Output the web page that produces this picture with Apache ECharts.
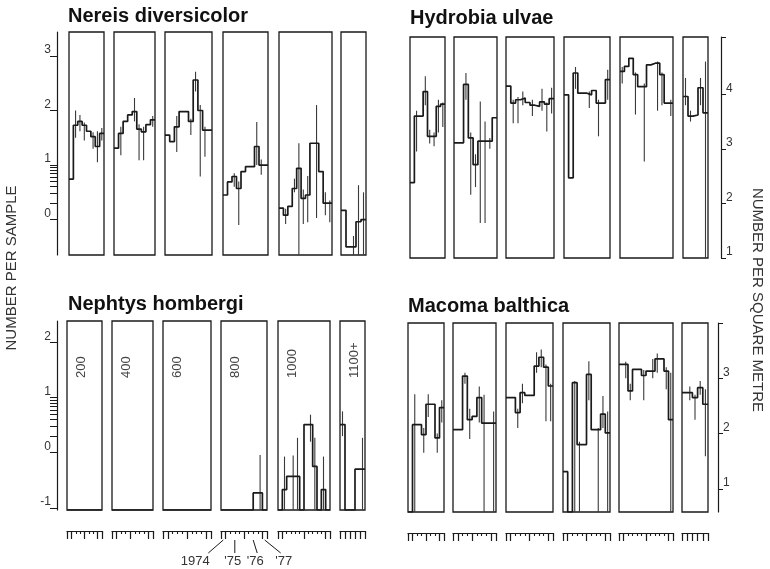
<!DOCTYPE html>
<html>
<head>
<meta charset="utf-8">
<script src="https://cdn.jsdelivr.net/npm/echarts@6/dist/echarts.min.js"></script>
<style>
  html, body { margin: 0; padding: 0; background: #fff; }
  #chart { width: 770px; height: 569px; }
</style>
</head>
<body>
<div id="chart"></div>
<script>
// ---- data ----------------------------------------------------------------
const species = ['Nereis diversicolor', 'Hydrobia ulvae', 'Nephtys hombergi', 'Macoma balthica'];
const bandLabels = ['200', '400', '600', '800', '1000', '1100+'];
const samplesPerBand = [8, 9, 10, 10, 12, 5];

// long ticks on the sampling-date combs (sample-boundary index)
const yearMarks = [[0, 1, 4, 7, 8], [0, 1, 4, 8, 9], [0, 1, 5, 9, 10], [0, 1, 5, 9, 10], [0, 1, 6, 11, 12], [0, 1, 2, 3, 4, 5]];
const yearLabels = ['1974', "'75", "'76", "'77"];
const yearLabelAt = [0.5, 3, 7, 9.5];

// axis tick labels
const nereisTicks = [0, 1, 2, 3];
const hydrobiaTicks = [1, 2, 3, 4];
const nephtysTicks = [-1, 0, 1, 2];
const macomaTicks = [1, 2, 3];
const logMinor = [2, 3, 4, 5, 6, 7, 8, 9];

const nereisRange = [-0.65, 3.44];
const hydrobiaRange = [1.0, 5.05];
const nephtysRange = [-1.04, 2.39];
const macomaRange = [0.58, 4.0];

// mean per sample (log10 number per sample on the left, log10 per m2 on the right);
// null = none found
const nereisMean = [
  [0.74, 1.73, 1.80, 1.73, 1.62, 1.52, 1.34, 1.58],
  [1.31, 1.58, 1.80, 1.92, 1.98, 1.66, 1.61, 1.74, 1.83],
  [1.55, 1.43, 1.70, 1.98, 1.98, 1.80, 2.56, 2.00, 1.64, 1.64],
  [0.45, 0.69, 0.79, 0.57, 0.88, 0.97, 0.97, 1.34, 1.00, 1.00],
  [0.21, 0.08, 0.24, 0.57, 0.94, 0.39, 0.45, 1.40, 1.40, 0.88, 0.30, 0.30],
  [0.17, -0.50, -0.50, -0.04, 0.00]
];
// error bars: [sample, low, high]; low null = reaches zero
const nereisErr = [
  [[1, 1.50, 2.00], [2, 1.62, 1.92], [3, 1.45, 1.78], [5, 1.30, 1.60], [6, 1.05, 1.62], [7, 1.45, 1.68]],
  [[1, 1.18, 1.70], [4, 1.80, 2.23], [5, 1.09, 1.75], [6, 1.09, 1.70], [8, 1.70, 1.90]],
  [[2, 1.24, 1.90], [5, 1.55, 1.85], [6, 2.35, 2.71], [7, 0.79, 2.10], [8, 1.15, 1.70]],
  [[2, 0.60, 0.85], [3, -0.10, 0.70], [7, 1.00, 1.79], [8, 0.82, 1.10]],
  [[1, -0.08, 0.20], [3, 0.50, 0.75], [4, null, 1.40], [5, -0.08, 0.55], [6, -0.05, 0.80], [8, 0.03, 2.10], [10, 0.08, 0.50], [11, -0.05, 0.35]],
  [[2, null, -0.30], [3, null, 0.63], [4, null, 0.50]]
];

const hydrobiaMean = [
  [2.38, 3.60, 3.60, 4.05, 3.23, 3.23, 3.78, 3.82],
  [3.11, 3.11, 4.18, 3.20, 2.71, 3.14, 3.14, 3.14, 3.57],
  [4.15, 3.84, 3.90, 3.93, 3.85, 3.80, 3.78, 3.86, 3.82, 3.92],
  [3.99, 2.47, 4.39, 4.02, 4.02, 3.99, 4.07, 3.84, 3.84, 4.27],
  [4.42, 4.51, 4.66, 4.36, 4.14, 4.14, 4.54, 4.57, 4.57, 4.36, 3.84, 3.84],
  [3.96, 3.60, 3.62, 4.12, 3.66]
];
const hydrobiaErr = [
  [[1, 2.95, 3.70], [3, 3.80, 4.33], [4, 3.10, 3.35], [5, 3.05, 3.30], [6, 3.30, 3.90], [7, 3.40, 3.85]],
  [[2, 3.90, 4.39], [3, 2.16, 3.30], [4, 2.30, 2.90], [5, 1.64, 3.87], [6, 1.64, 3.50], [7, 3.00, 3.20]],
  [[1, 3.47, 3.90], [2, 3.47, 3.95], [3, 3.80, 4.05], [5, 3.60, 3.90], [7, 3.70, 4.10], [8, 3.32, 3.85], [9, 3.65, 4.12]],
  [[2, 4.10, 4.50], [5, 3.75, 4.05], [7, 3.23, 3.90], [9, 3.90, 4.45]],
  [[0, 4.20, 4.50], [3, 3.63, 4.40], [5, 2.77, 4.20], [8, 3.70, 4.60], [9, 3.80, 4.40], [11, 3.60, 3.90]],
  [[0, 3.80, 4.30], [1, 3.50, 3.70], [3, 3.80, 4.30], [4, null, 4.60]]
];

const nephtysMean = [
  [null, null, null, null, null, null, null, null],
  [null, null, null, null, null, null, null, null, null],
  [null, null, null, null, null, null, null, null, null, null],
  [null, null, null, null, null, null, null, -0.73, -0.73, null],
  [null, -0.67, -0.43, -0.43, -0.43, null, 0.51, 0.51, -0.25, null, -0.67, null],
  [0.51, null, null, -0.30, -0.30]
];
const nephtysErr = [
  [], [], [],
  [[8, null, -0.04]],
  [[1, null, -0.07], [3, null, -0.05], [4, null, 0.27], [7, 0.20, 0.69], [8, null, 0.27], [10, null, -0.07]],
  [[0, 0.30, 0.75], [4, null, 0.27]]
];

const macomaMean = [
  [null, 2.16, 2.16, 1.98, 2.53, 2.53, 1.92, 2.47],
  [2.07, 2.07, 3.04, 2.25, 2.31, 2.65, 2.19, 2.19, 2.19],
  [2.65, 2.65, 2.38, 2.74, 2.69, 2.69, 3.22, 3.38, 3.20, 2.86],
  [1.31, null, 2.92, 1.80, 1.80, 3.07, 2.07, 2.07, 2.35, 2.01],
  [3.25, 3.25, 2.77, 3.16, 3.16, 3.05, 3.13, 3.13, 3.35, 3.35, 3.13, 2.25],
  [2.74, 2.74, 2.65, 2.83, 2.53]
];
const macomaErr = [
  [[1, null, 2.71], [3, 1.65, 2.10], [4, 2.30, 2.71], [6, 1.65, 2.00], [7, 2.20, 2.60]],
  [[2, 2.90, 3.10], [3, 1.90, 2.45], [5, 2.20, 2.85], [6, null, 2.70], [8, null, 2.40]],
  [[2, 2.10, 2.45], [3, 2.55, 2.90], [6, 3.10, 3.47], [7, 3.20, 3.52], [8, 2.22, 3.25], [9, 2.22, 2.90]],
  [[2, null, 2.95], [3, null, 1.85], [5, 2.60, 3.31], [7, null, 2.10], [8, 2.10, 2.68], [9, null, 2.40]],
  [[1, 3.00, 3.30], [2, 2.60, 2.90], [5, 2.60, 3.15], [7, 3.00, 3.35], [8, 3.10, 3.45], [10, 2.80, 3.20], [11, null, 3.10]],
  [[1, 2.60, 2.85], [2, 2.25, 2.70], [3, 2.70, 2.95], [4, 1.59, 2.80]]
];

// ---- layout ----------------------------------------------------------------
const FONT = '"Liberation Sans", Arial, Helvetica, sans-serif';
const INK = '#1a1a1a';

const panels = [
  { name: species[0], mean: nereisMean, err: nereisErr, range: nereisRange, ticks: nereisTicks, log: true,
    top: 32, bottom: 255, axis: 'left', axisX: 57, title: [68, 16], comb: false,
    boxes: [[69, 104], [114, 155], [165, 212], [223, 268], [279, 332], [341, 366]] },
  { name: species[1], mean: hydrobiaMean, err: hydrobiaErr, range: hydrobiaRange, ticks: hydrobiaTicks, log: false,
    top: 37, bottom: 258, axis: 'right', axisX: 721, title: [410, 18], comb: false,
    boxes: [[410, 445], [454, 497], [506, 554], [564, 610], [620, 673], [683, 708]] },
  { name: species[2], mean: nephtysMean, err: nephtysErr, range: nephtysRange, ticks: nephtysTicks, log: true,
    top: 321, bottom: 510, axis: 'left', axisX: 57, title: [68, 304], comb: true, bands: true,
    boxes: [[67, 102], [112, 153], [163, 211], [221, 267], [278, 330], [340, 365]] },
  { name: species[3], mean: macomaMean, err: macomaErr, range: macomaRange, ticks: macomaTicks, log: false,
    top: 323, bottom: 512, axis: 'right', axisX: 718, title: [408, 306], comb: true,
    boxes: [[408, 444], [453, 496], [506, 553], [563, 610], [619, 673], [682, 708]] }
];
const COMB_GAP = 21;

function errBar(params, api) {
  const a = api.coord([api.value(0), api.value(1)]);
  const b = api.coord([api.value(0), api.value(2)]);
  return {
    type: 'line',
    shape: { x1: a[0], y1: a[1], x2: b[0], y2: b[1] },
    style: { stroke: '#3a3a3a', lineWidth: 1.1 }
  };
}

const grids = [], xAxes = [], yAxes = [], series = [], longAxes = [];
const mainAxisOf = {};

panels.forEach((p, pi) => {
  p.mean.forEach((vals, b) => {
    const g = grids.length;
    const [x0, x1] = p.boxes[b];
    const n = vals.length;
    mainAxisOf[pi + '_' + b] = g;
    grids.push({
      left: x0, top: p.top, width: x1 - x0, height: p.bottom - p.top,
      show: true, borderColor: INK, borderWidth: 1.3, backgroundColor: 'transparent'
    });
    const bounds = [];
    for (let i = 0; i <= n; i++) bounds.push(i);
    xAxes.push({
      gridIndex: g, type: 'value', min: 0, max: n, show: p.comb,
      position: 'bottom', offset: COMB_GAP,
      axisLine: { show: true, onZero: false, lineStyle: { color: INK, width: 1.2 } },
      axisTick: { show: true, inside: false, length: 3, customValues: bounds, lineStyle: { color: INK, width: 1.1 } },
      axisLabel: { show: false }, splitLine: { show: false }
    });
    if (p.comb) {
      longAxes.push({
        gridIndex: g, type: 'value', min: 0, max: n, show: true,
        position: 'bottom', offset: COMB_GAP,
        axisLine: { show: false, onZero: false },
        axisTick: { show: true, inside: false, length: 8, customValues: yearMarks[b], lineStyle: { color: INK, width: 1.2 } },
        axisLabel: { show: false }, splitLine: { show: false }
      });
    }
    const isAxis = (p.axis === 'left' && b === 0) || (p.axis === 'right' && b === p.mean.length - 1);
    let tickVals = p.ticks.slice();
    if (p.log) tickVals = tickVals.concat(logMinor.map(v => Math.log10(v)));
    if (p.axis === 'right') tickVals.push(p.range[1]);
    yAxes.push({
      gridIndex: g, type: 'value', min: p.range[0], max: p.range[1], show: isAxis,
      position: p.axis, offset: p.axis === 'left' ? x0 - p.axisX : p.axisX - x1,
      axisLine: { show: true, onZero: false, lineStyle: { color: INK, width: 1.2 } },
      axisTick: { show: true, inside: false, length: p.axis === 'left' ? 7 : 5, customValues: tickVals, lineStyle: { color: INK, width: 1 } },
      axisLabel: {
        show: true, customValues: p.ticks, formatter: v => String(Math.round(v)),
        verticalAlign: 'bottom', margin: p.axis === 'left' ? 6 : 5,
        fontSize: 12, color: '#333', fontFamily: FONT
      },
      splitLine: { show: false }
    });

    const floor = p.range[0];
    const pts = vals.map((v, i) => [i, v == null ? floor : v]);
    pts.push([n, pts[n - 1][1]]);
    series.push({
      type: 'line', xAxisIndex: g, yAxisIndex: g, data: pts, step: 'end',
      symbol: 'none', silent: true, clip: true, z: 3,
      lineStyle: { color: INK, width: 1.7 }
    });
    series.push({
      type: 'custom', xAxisIndex: g, yAxisIndex: g, clip: true, silent: true, z: 2,
      data: p.err[b].map(([i, lo, hi]) => [i + 0.5, lo == null ? floor : lo, hi]),
      encode: { x: 0, y: [1, 2] },
      renderItem: errBar
    });
  });
});

const chart = echarts.init(document.getElementById('chart'), null, { renderer: 'canvas' });
chart.setOption({
  animation: false,
  backgroundColor: '#fff',
  grid: grids,
  xAxis: xAxes.concat(longAxes),
  yAxis: yAxes,
  series: series
});

// ---- text: titles, axis names, band labels, year key ----------------------
const graphic = [];
panels.forEach(p => {
  graphic.push({
    type: 'text', x: p.title[0], y: p.title[1],
    style: { text: p.name, font: 'bold 20px ' + FONT, fill: '#111', textAlign: 'left', textVerticalAlign: 'middle' }
  });
  if (p.bands) {
    p.boxes.forEach((bx, b) => {
      graphic.push({
        type: 'text', x: bx[0] + 14, y: p.top + 57, rotation: Math.PI / 2,
        style: { text: bandLabels[b], font: '13px ' + FONT, fill: '#444', textAlign: 'left', textVerticalAlign: 'middle' }
      });
    });
  }
});
graphic.push({
  type: 'text', x: 12, y: 268, rotation: Math.PI / 2,
  style: { text: 'NUMBER PER SAMPLE', font: '15px ' + FONT, fill: '#333', textAlign: 'center', textVerticalAlign: 'middle' }
});
graphic.push({
  type: 'text', x: 757, y: 300, rotation: -Math.PI / 2,
  style: { text: 'NUMBER PER SQUARE METRE', font: '15px ' + FONT, fill: '#333', textAlign: 'center', textVerticalAlign: 'middle' }
});

// year key under the 800 band of the Nephtys panel
const keyAxis = mainAxisOf['2_3'];
const combBottom = panels[2].bottom + COMB_GAP + 9;
const leadDx = [-15, 0, 4, 16];
const textDx = [-28, -2, 2, 19];
yearLabels.forEach((lab, k) => {
  const tx = chart.convertToPixel({ xAxisIndex: keyAxis }, yearLabelAt[k]);
  graphic.push({
    type: 'line', shape: { x1: tx, y1: combBottom, x2: tx + leadDx[k], y2: combBottom + 13 },
    style: { stroke: INK, lineWidth: 1 }
  });
  graphic.push({
    type: 'text', x: tx + textDx[k], y: combBottom + 21,
    style: { text: lab, font: '13px ' + FONT, fill: '#333', textAlign: 'center', textVerticalAlign: 'middle' }
  });
});

chart.setOption({ graphic: graphic });
</script>
</body>
</html>
